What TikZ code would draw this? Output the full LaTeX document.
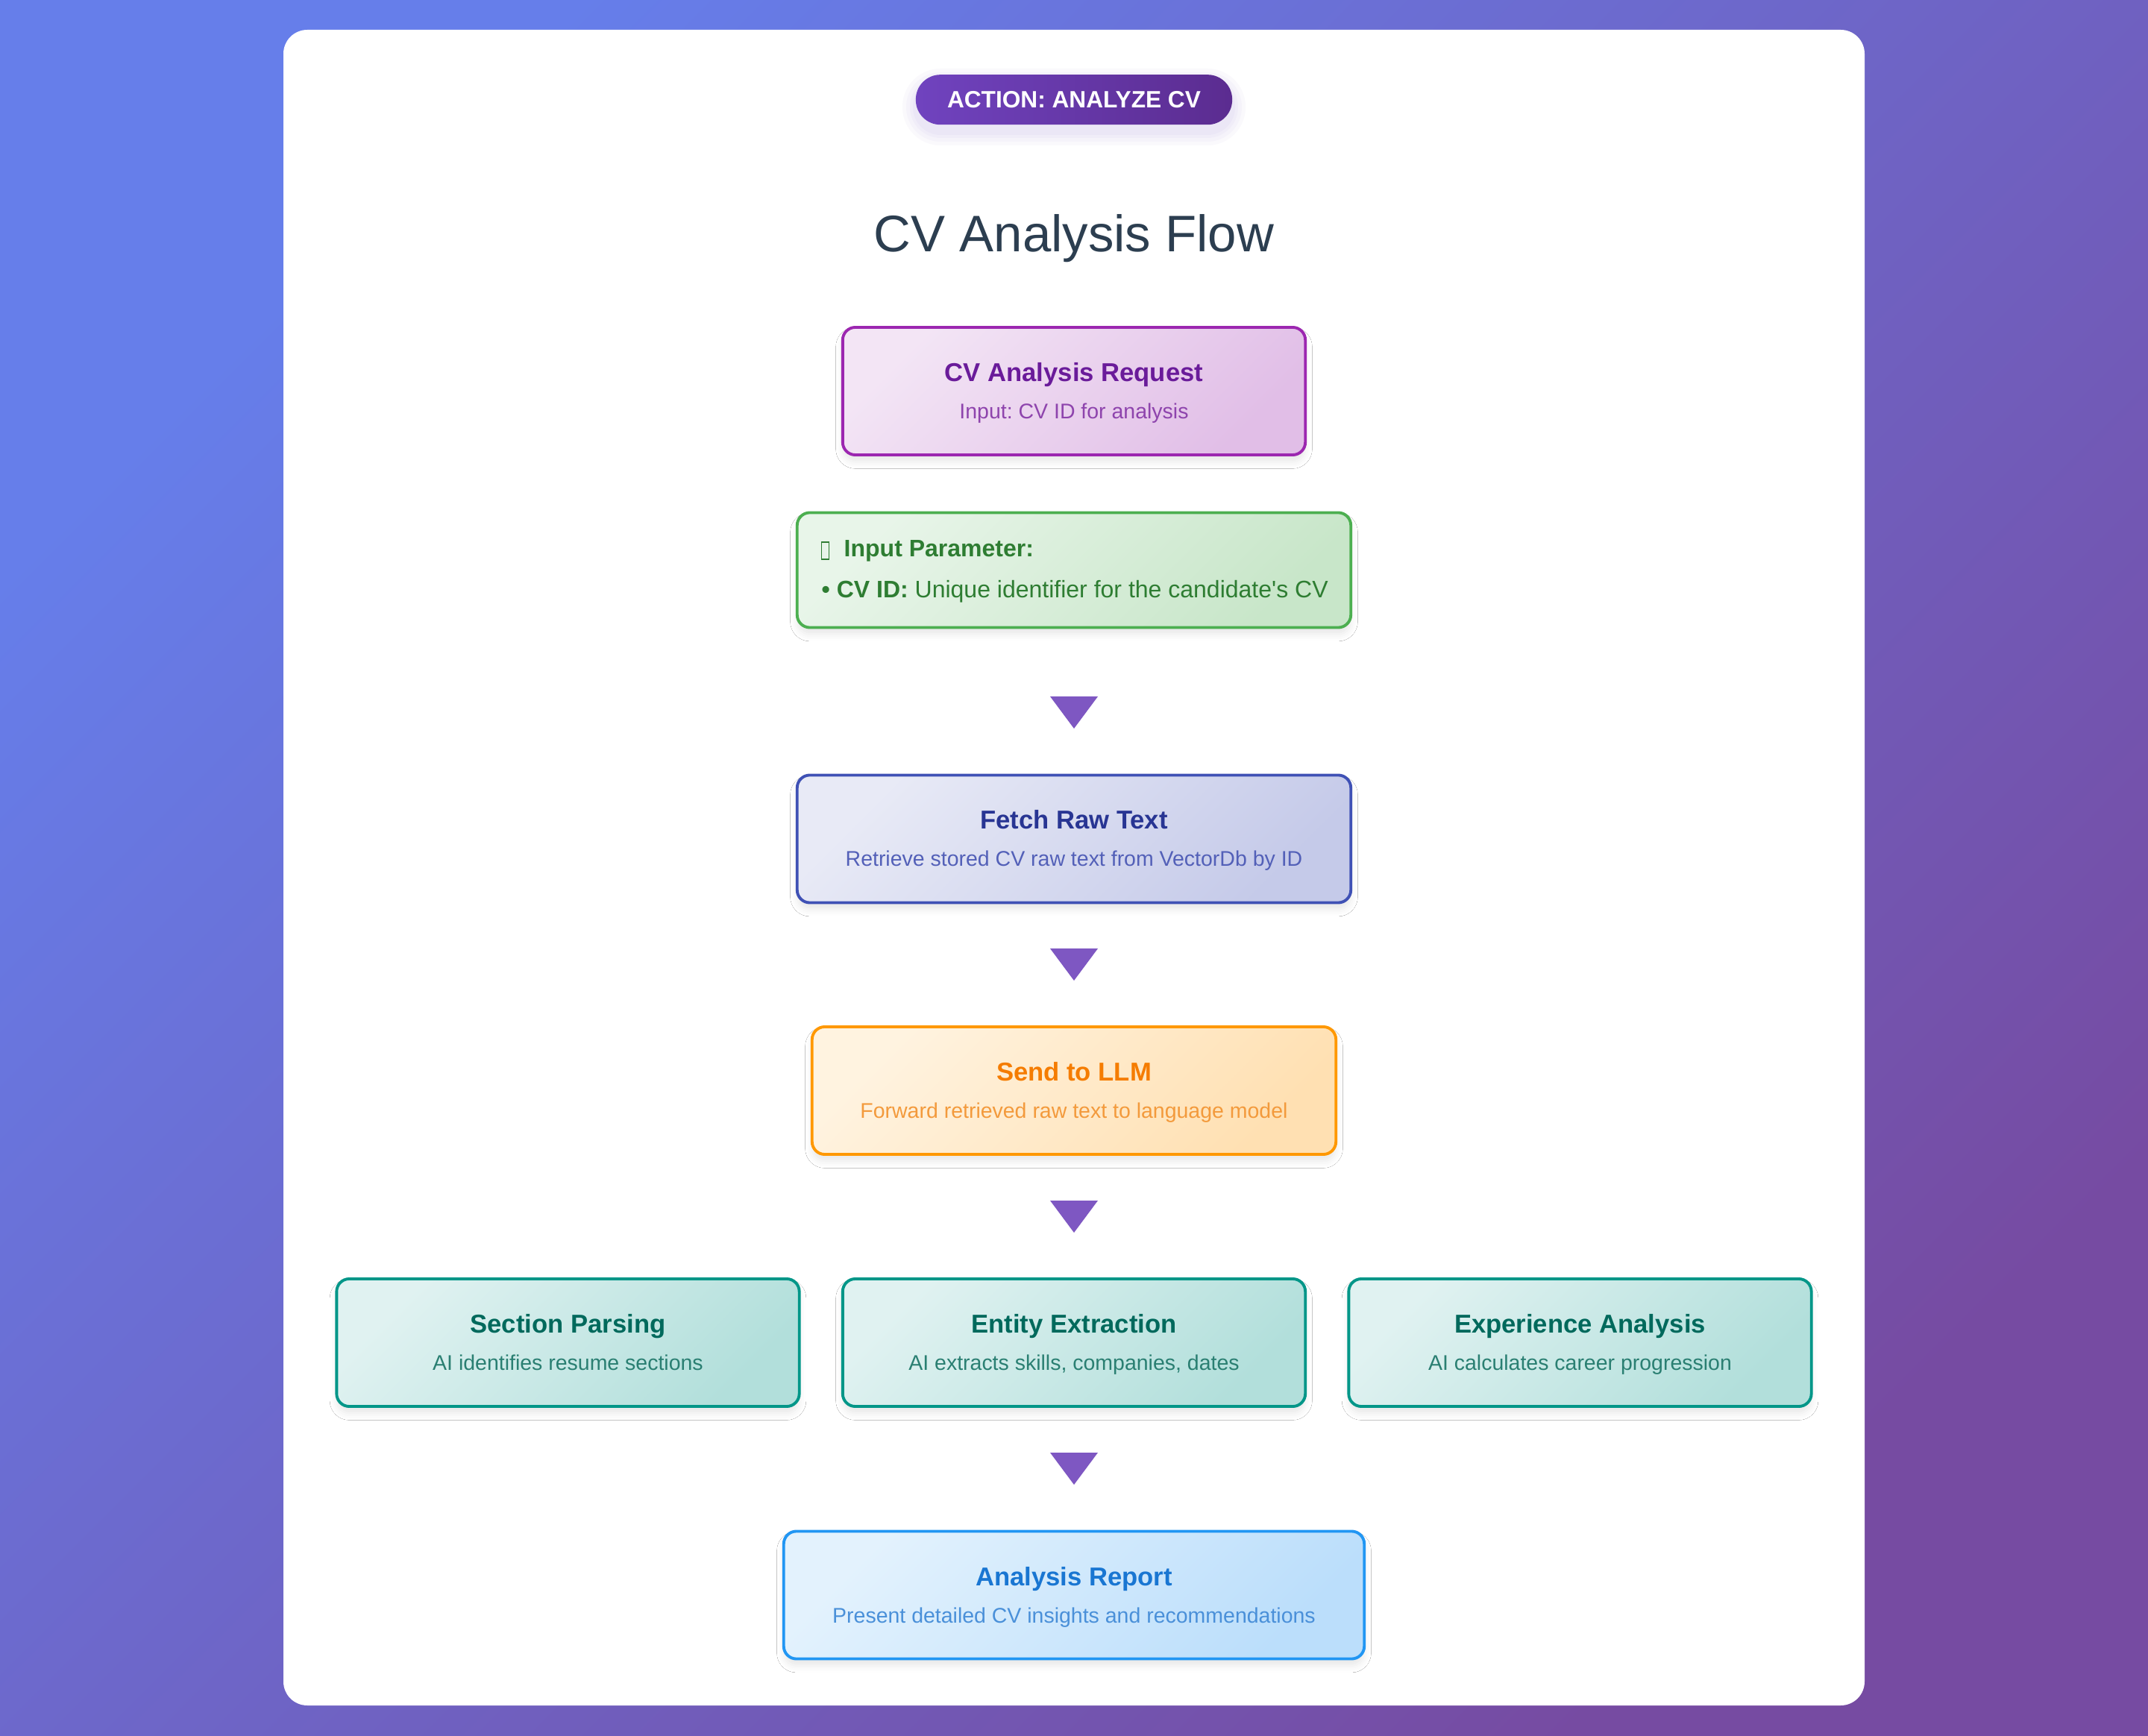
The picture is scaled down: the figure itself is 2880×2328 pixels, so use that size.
\documentclass[tikz,border=0pt]{standalone}
\usepackage{fontspec}
\setmainfont{Liberation Sans}[Ligatures=TeXOff]
\frenchspacing
\usetikzlibrary{shadows.blur}
\definecolor{BgA}{HTML}{667EEA}
\definecolor{BgB}{HTML}{764BA2}
\definecolor{Heading}{HTML}{2C3E50}
\definecolor{BadgeA}{HTML}{7043BF}
\definecolor{BadgeB}{HTML}{5B2C90}
\definecolor{Pointer}{HTML}{7E57C2}
\definecolor{ReqLine}{HTML}{9C27B0}
\definecolor{ReqA}{HTML}{F3E5F5}
\definecolor{ReqB}{HTML}{E1BEE7}
\definecolor{ReqTitle}{HTML}{6A1B9A}
\definecolor{ReqSub}{HTML}{8E44AD}
\definecolor{ParLine}{HTML}{4CAF50}
\definecolor{ParA}{HTML}{E8F5E9}
\definecolor{ParB}{HTML}{C8E6C9}
\definecolor{ParText}{HTML}{2E7D32}
\definecolor{FetLine}{HTML}{3F51B5}
\definecolor{FetA}{HTML}{E8EAF6}
\definecolor{FetB}{HTML}{C5CAE9}
\definecolor{FetTitle}{HTML}{283593}
\definecolor{FetSub}{HTML}{5360B8}
\definecolor{LlmLine}{HTML}{FF9800}
\definecolor{LlmA}{HTML}{FFF3E0}
\definecolor{LlmB}{HTML}{FFE0B2}
\definecolor{LlmTitle}{HTML}{F57C00}
\definecolor{LlmSub}{HTML}{F39A3C}
\definecolor{AiLine}{HTML}{009688}
\definecolor{AiA}{HTML}{E0F2F1}
\definecolor{AiB}{HTML}{B2DFDB}
\definecolor{AiTitle}{HTML}{00695C}
\definecolor{AiSub}{HTML}{2A7F72}
\definecolor{RepLine}{HTML}{2196F3}
\definecolor{RepA}{HTML}{E3F2FD}
\definecolor{RepB}{HTML}{BBDEFB}
\definecolor{RepTitle}{HTML}{1976D2}
\definecolor{RepSub}{HTML}{4A90D9}
\tikzset{
  stage/.style={draw, line width=1.1pt, rounded corners=0.17cm, minimum height=1.71cm, inner sep=0pt,
    blur shadow={shadow xshift=0pt, shadow yshift=-2.6pt, shadow blur radius=2.6pt, shadow opacity=9}},
  stagetitle/.style={anchor=base, inner sep=0pt, font=\bfseries\fontsize{9.85}{12}\selectfont},
  stagesub/.style={anchor=base, inner sep=0pt, font=\fontsize{8.1}{10}\selectfont},
  req/.style={stage, draw=ReqLine, top color=ReqA, bottom color=ReqB, shading angle=45, minimum width=6.2cm},
  par/.style={stage, draw=ParLine, top color=ParA, bottom color=ParB, shading angle=45, minimum width=7.42cm, minimum height=1.54cm},
  fet/.style={stage, draw=FetLine, top color=FetA, bottom color=FetB, shading angle=45, minimum width=7.42cm},
  llm/.style={stage, draw=LlmLine, top color=LlmA, bottom color=LlmB, shading angle=45, minimum width=7.02cm},
  ai/.style={stage, draw=AiLine, top color=AiA, bottom color=AiB, shading angle=45, minimum width=6.2cm},
  rep/.style={stage, draw=RepLine, top color=RepA, bottom color=RepB, shading angle=45, minimum width=7.78cm},
  partext/.style={anchor=base west, inner sep=0pt, text=ParText, font=\fontsize{9.1}{11}\selectfont}
}
\begin{document}
\begin{tikzpicture}[x=0.01cm, y=-0.01cm]
\useasboundingbox (0,0) rectangle (2880,2328);
\shade[top color=BgA, bottom color=BgB, shading angle=45] (0,0) rectangle (2880,2328);
\fill[white, rounded corners=0.32cm] (380,40) rectangle (2500,2287);
\foreach \g/\r in {4/0.37, 8/0.41, 13/0.46, 18/0.51}
  \fill[BadgeA, opacity=0.03, rounded corners=\r cm] ({1228-\g},{110-\g}) rectangle ({1652+\g},{177+\g});
\node[left color=BadgeA, right color=BadgeB, rounded corners=0.33cm, minimum width=4.24cm, minimum height=0.67cm, inner sep=0pt, text=white, font=\bfseries\fontsize{9}{10}\selectfont] (badge) at (1440,133.7) {ACTION: ANALYZE CV};
\node[anchor=base, inner sep=0pt, text=Heading, font=\fontsize{19.6}{23}\selectfont] (heading) at (1440,338) {CV Analysis Flow};

\node[req] (req) at (1440,524.5) {};
\node[stagetitle, text=ReqTitle] (reqtitle) at (1440,511.7) {CV Analysis Request};
\node[stagesub, text=ReqSub] (reqsub) at (1440,561.7) {Input: CV ID for analysis};

\node[par] (par) at (1440,764.5) {};
\node[draw=ParText, line width=0.4pt, minimum width=0.1cm, minimum height=0.23cm, inner sep=0pt] (icon) at (1106.5,738.5) {};
\node[partext] (partitle) at (1131,746.7) {\textbf{Input Parameter:}};
\node[partext] (parline) at (1101,801.7) {\textbf{• CV ID:} Unique identifier for the candidate's CV};

\node[fet] (fet) at (1440,1125) {};
\node[stagetitle, text=FetTitle] (fettitle) at (1440,1112) {Fetch Raw Text};
\node[stagesub, text=FetSub] (fetsub) at (1440,1162) {Retrieve stored CV raw text from VectorDb by ID};

\node[llm] (llm) at (1440,1462.5) {};
\node[stagetitle, text=LlmTitle] (llmtitle) at (1440,1449.5) {Send to LLM};
\node[stagesub, text=LlmSub] (llmsub) at (1440,1499.5) {Forward retrieved raw text to language model};

\node[ai] (sec) at (761.5,1800.5) {};
\node[stagetitle, text=AiTitle] (sectitle) at (761.5,1787.5) {Section Parsing};
\node[stagesub, text=AiSub] (secsub) at (761.5,1837.5) {AI identifies resume sections};
\node[ai] (ent) at (1440,1800.5) {};
\node[stagetitle, text=AiTitle] (enttitle) at (1440,1787.5) {Entity Extraction};
\node[stagesub, text=AiSub] (entsub) at (1440,1837.5) {AI extracts skills, companies, dates};
\node[ai] (exp) at (2118.5,1800.5) {};
\node[stagetitle, text=AiTitle] (exptitle) at (2118.5,1787.5) {Experience Analysis};
\node[stagesub, text=AiSub] (expsub) at (2118.5,1837.5) {AI calculates career progression};

\node[rep] (rep) at (1440,2139) {};
\node[stagetitle, text=RepTitle] (reptitle) at (1440,2126) {Analysis Report};
\node[stagesub, text=RepSub] (repsub) at (1440,2176) {Present detailed CV insights and recommendations};

\foreach \t in {934,1272,1610,1948}
  \fill[Pointer] (1408,\t) -- (1472,\t) -- (1440,{\t+43}) -- cycle;
\end{tikzpicture}
\end{document}
